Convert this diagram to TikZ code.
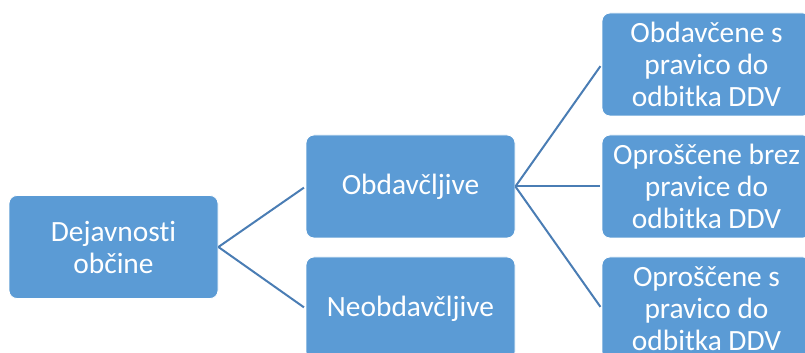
\documentclass[tikz,border=0pt]{standalone}
\usepackage{fontspec}
\setmainfont[Ligatures=CommonOff]{Carlito}
\definecolor{boxblue}{HTML}{5B9BD5}
\definecolor{lineblue}{HTML}{4A7DB4}
\tikzset{
  blok/.style={rectangle, rounded corners=4pt, fill=boxblue, draw=white, line width=0.4pt,
    minimum width=104.5pt, minimum height=51.5pt, text=white, align=center,
    font=\fontsize{14.7}{16}\selectfont},
  veja/.style={draw=lineblue, line width=1pt, shorten >=1pt}
}
\begin{document}
\begin{tikzpicture}[x=0.5pt,y=0.5pt]
        \useasboundingbox (0,0) rectangle (805,353);
        \clip (0,0) rectangle (805,353);
        \node[blok] (dej) at (113.5,106) {Dejavnosti\\občine};
        \node[blok] (obd) at (410.5,166.5) {Obdavčljive};
        \node[blok] (neo) at (410.5,44.5) {Neobdavčljive};
        \node[blok] (sodb) at (706.5,288.5) {Obdavčene s\\pravico do\\odbitka DDV};
        \node[blok] (obrez) at (706.5,166.5) {Oproščene brez\\pravice do\\odbitka DDV};
        \node[blok] (osodb) at (706.5,44.5) {Oproščene s\\pravico do\\odbitka DDV};
        \draw[veja] (dej.east) -- (obd.west);
        \draw[veja] (dej.east) -- (neo.west);
        \draw[veja] (obd.east) -- (sodb.west);
        \draw[veja] (obd.east) -- (obrez.west);
        \draw[veja] (obd.east) -- (osodb.west);
      \end{tikzpicture}
\end{document}
